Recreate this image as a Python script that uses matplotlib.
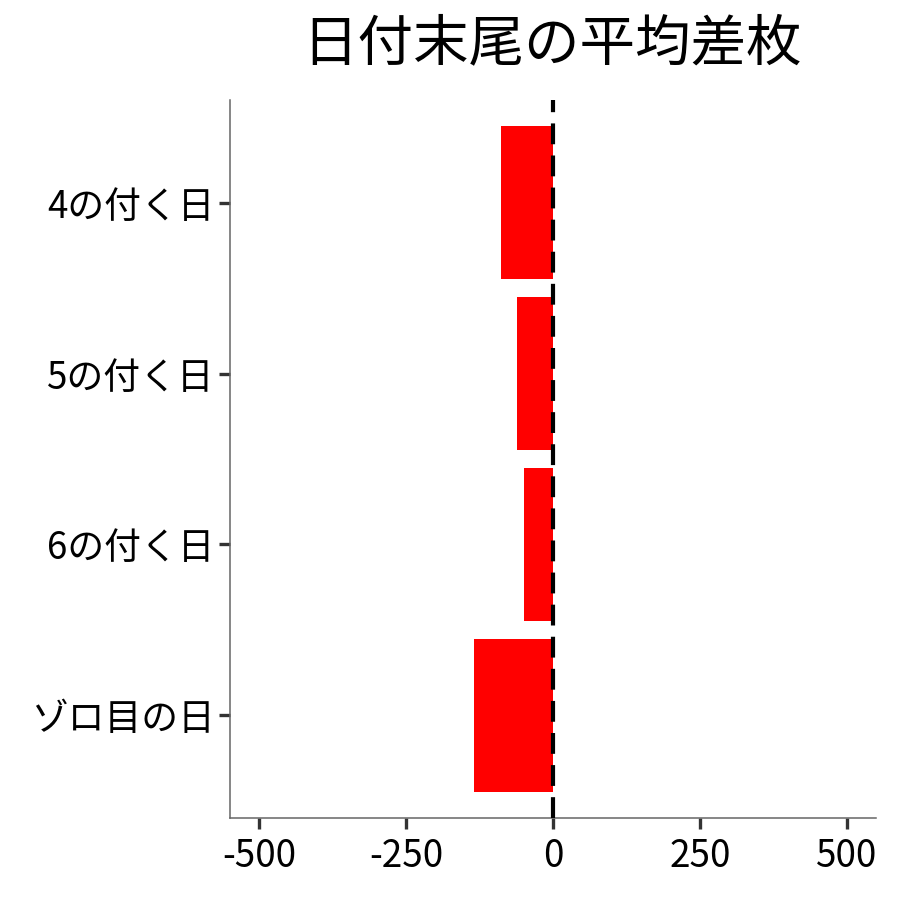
import matplotlib
matplotlib.use("Agg")
import matplotlib.pyplot as plt

plt.rcParams["font.family"] = ["Noto Sans CJK JP", "DejaVu Sans"]

# data (top to bottom in the picture)
categories = ["4の付く日", "5の付く日", "6の付く日", "ゾロ目の日"]
avg_diff = [-88, -61, -49, -134]
x_ticks = [-500, -250, 0, 250, 500]

fig = plt.figure(figsize=(9, 9), dpi=100)
ax = fig.add_axes([0.2556, 0.0911, 0.7178, 0.7978])

# plot bottom-up so the first category sits at the top
ypos = list(range(len(categories)))[::-1]
ax.barh(ypos, avg_diff, height=0.9, color="#ff0000", zorder=2)
ax.axvline(0, color="black", linestyle=(0, (5, 2.7)), linewidth=3, zorder=3)

ax.set_xlim(-550, 550)
ax.set_ylim(-0.6, len(categories) - 0.4)
ax.set_yticks(ypos)
ax.set_yticklabels(categories)
ax.set_xticks(x_ticks)
ax.set_xticklabels([str(t) for t in x_ticks])

ax.tick_params(axis="both", labelsize=26.5, length=8, width=2.4,
               color="#333333", labelcolor="black", pad=3)
ax.tick_params(axis="x", pad=6)
for side in ["top", "right"]:
    ax.spines[side].set_visible(False)
for side in ["left", "bottom"]:
    ax.spines[side].set_color("#666666")
    ax.spines[side].set_linewidth(1.1)

fig.suptitle("日付末尾の平均差枚", fontsize=40, x=0.613, y=0.982, va="top")

fig.savefig("out.png", dpi=100)
